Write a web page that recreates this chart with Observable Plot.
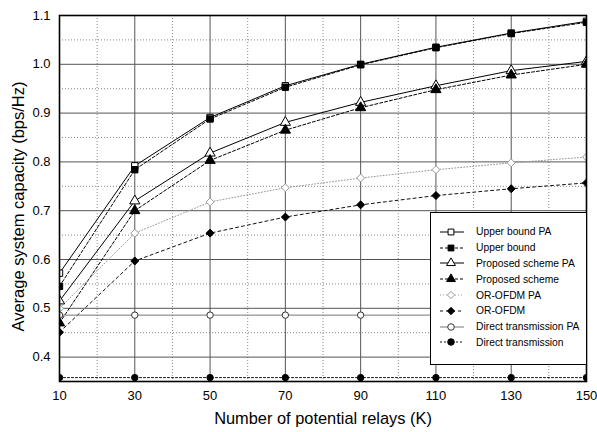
<!DOCTYPE html>
<html>
<head>
<meta charset="utf-8">
<script src="https://cdn.jsdelivr.net/npm/d3@7"></script>
<script src="https://cdn.jsdelivr.net/npm/@observablehq/plot@0.6"></script>
<style>
  html, body { margin: 0; padding: 0; background: #fff; }
  #wrap { position: relative; width: 597px; height: 432px; font-family: "Liberation Sans", Arial, sans-serif; }
  #legend { position: absolute; left: 430px; top: 212px; width: 157px; height: 153px; border: 1px solid #000; background: #fff; padding-top: 11px; box-sizing: border-box; }
  .row { display: flex; align-items: center; height: 15.8px; font-size: 10.3px; color: #000; white-space: nowrap; }
  .row svg { flex: none; }
</style>
</head>
<body>
<div id="wrap"><div id="legend"></div></div>
<script>
// ---- data ----
const K = [10, 30, 50, 70, 90, 110, 130, 150];
const seriesNames = [
  "Upper bound PA", "Upper bound", "Proposed scheme PA", "Proposed scheme",
  "OR-OFDM PA", "OR-OFDM", "Direct transmission PA", "Direct transmission"
];
const upperBoundPA = [0.572, 0.792, 0.891, 0.956, 1.000, 1.035, 1.064, 1.088];
const upperBound   = [0.545, 0.784, 0.888, 0.953, 0.999, 1.034, 1.063, 1.086];
const proposedPA   = [0.515, 0.720, 0.818, 0.881, 0.922, 0.956, 0.987, 1.006];
const proposed     = [0.470, 0.700, 0.803, 0.865, 0.911, 0.948, 0.978, 1.000];
const orOfdmPA     = [0.500, 0.654, 0.718, 0.747, 0.767, 0.784, 0.798, 0.810];
const orOfdm       = [0.451, 0.597, 0.654, 0.687, 0.712, 0.731, 0.745, 0.757];
const directPA     = [0.486, 0.486, 0.486, 0.486, 0.486, 0.486, 0.486, 0.486];
const direct       = [0.358, 0.358, 0.358, 0.358, 0.358, 0.358, 0.358, 0.358];
const xTicks = [10, 30, 50, 70, 90, 110, 130, 150];
const xMinor = [20, 40, 60, 80, 100, 120, 140];
const yTicks = [0.4, 0.5, 0.6, 0.7, 0.8, 0.9, 1.0, 1.1];
const yMinor = [0.35, 0.45, 0.55, 0.65, 0.75, 0.85, 0.95, 1.05];
const xLabel = "Number of potential relays (K)";
const yLabel = "Average system capacity (bps/Hz)";

const values = [upperBoundPA, upperBound, proposedPA, proposed, orOfdmPA, orOfdm, directPA, direct];
const styles = [
  {stroke: "#000", dash: null,  symbol: "square",   fill: "#fff", mstroke: "#000", r: 3.6},
  {stroke: "#000", dash: "3,2", symbol: "square",   fill: "#000", mstroke: "#000", r: 3.6},
  {stroke: "#000", dash: null,  symbol: "triangle", fill: "#fff", mstroke: "#000", r: 3.8},
  {stroke: "#000", dash: "3,2", symbol: "triangle", fill: "#000", mstroke: "#000", r: 3.8},
  {stroke: "#999", dash: "1,2", symbol: "diamond2", fill: "#fff", mstroke: "#999", r: 3.6},
  {stroke: "#111", dash: "3,3", symbol: "diamond2", fill: "#000", mstroke: "#000", r: 3.6},
  {stroke: "#777", dash: null,  symbol: "circle",   fill: "#fff", mstroke: "#333", r: 3.2},
  {stroke: "#111", dash: "2,2", symbol: "circle",   fill: "#000", mstroke: "#000", r: 3.2}
];

const rows = [];
values.forEach((arr, i) => arr.forEach((v, j) => rows.push({series: i, K: K[j], v})));

const lineMarks = [];
const dotMarks = [];
styles.forEach((s, i) => {
  const d = rows.filter(r => r.series === i);
  lineMarks.push(Plot.line(d, {x: "K", y: "v", stroke: s.stroke, strokeWidth: 1, strokeDasharray: s.dash}));
  dotMarks.push(Plot.dot(d, {x: "K", y: "v", symbol: () => s.symbol, r: s.r, fill: s.fill, stroke: s.mstroke, strokeWidth: 1, clip: true}));
});

const chart = Plot.plot({
  width: 597,
  height: 432,
  marginLeft: 59,
  marginRight: 11,
  marginTop: 15,
  marginBottom: 51,
  style: {fontFamily: "'Liberation Sans', Arial, sans-serif", color: "#000", background: "#fff"},
  x: {domain: [10, 150]},
  y: {domain: [0.35, 1.1]},
  symbol: {type: "identity"},
  marks: [
    Plot.ruleX(xMinor, {stroke: "#888", strokeDasharray: "1,2"}),
    Plot.ruleY(yMinor, {stroke: "#888", strokeDasharray: "1,2"}),
    Plot.ruleX(xTicks, {stroke: "#555"}),
    Plot.ruleY(yTicks, {stroke: "#555"}),
    ...lineMarks,
    ...dotMarks,
    Plot.frame({stroke: "#000", strokeWidth: 1.6}),
    Plot.axisX(xTicks, {tickSize: 0, tickPadding: 9, fontSize: 13, label: null, tickFormat: d3.format("d")}),
    Plot.axisY(yTicks, {tickSize: 0, tickPadding: 9, fontSize: 13, label: null, tickFormat: d3.format(".1f")}),
    Plot.text([xLabel], {frameAnchor: "bottom", dy: 37, fontSize: 16.4, lineAnchor: "middle", textAnchor: "middle", text: d => d}),
    Plot.text([yLabel], {frameAnchor: "left", dx: -41, dy: 8, rotate: -90, fontSize: 16.5, lineAnchor: "middle", textAnchor: "middle", text: d => d})
  ]
});
document.getElementById("wrap").prepend(chart);

// ---- legend ----
const legend = d3.select("#legend");
function symPath(name) {
  const map = {square: d3.symbolSquare, triangle: d3.symbolTriangle, diamond2: d3.symbolDiamond2, circle: d3.symbolCircle};
  return d3.symbol(map[name], 34)();
}
styles.forEach((s, i) => {
  const row = legend.append("div").attr("class", "row");
  const svg = row.append("svg").attr("width", 45).attr("height", 12);
  svg.append("line").attr("x1", 9).attr("x2", 33).attr("y1", 6).attr("y2", 6)
    .attr("stroke", s.stroke).attr("stroke-dasharray", s.dash);
  svg.append("path").attr("d", symPath(s.symbol)).attr("transform", "translate(20,6)")
    .attr("fill", s.fill).attr("stroke", s.mstroke);
  row.append("span").text(seriesNames[i]);
});
</script>
</body>
</html>
